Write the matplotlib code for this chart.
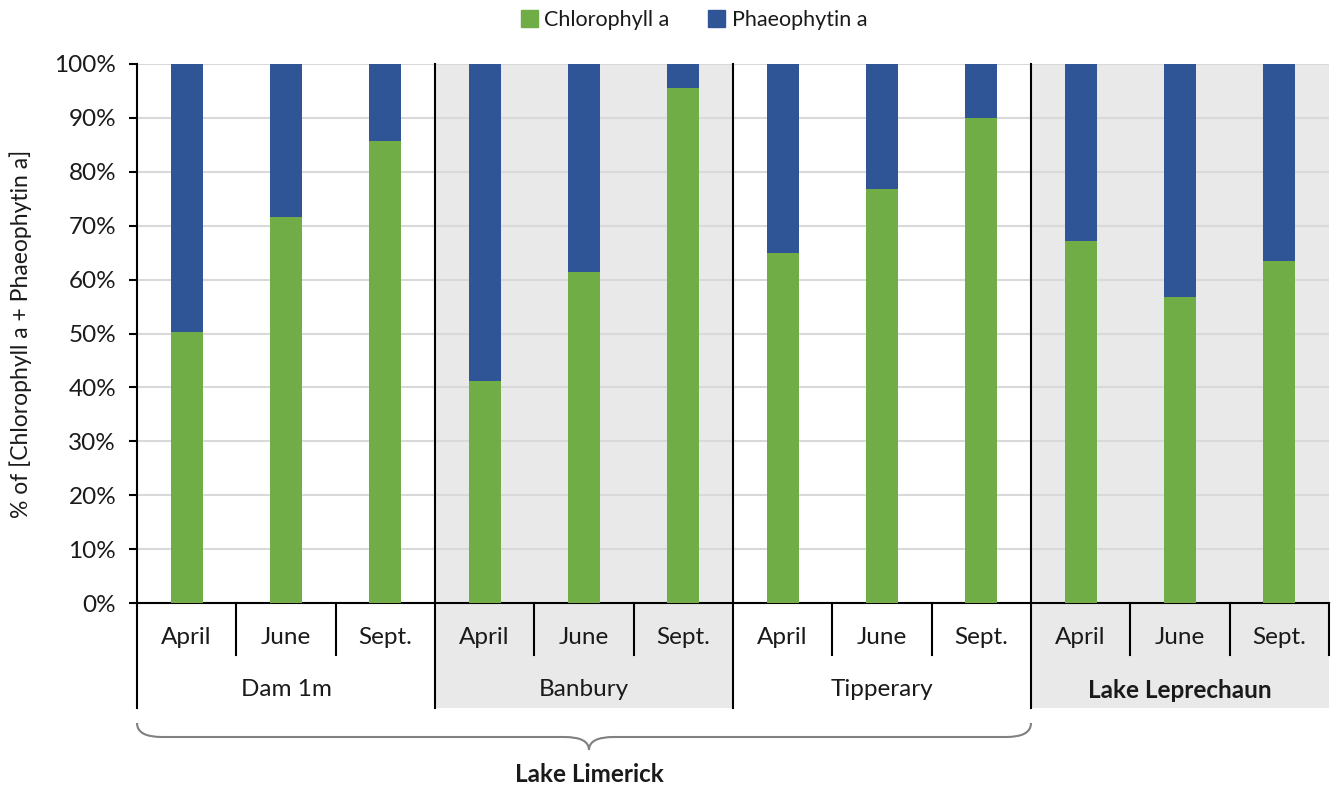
import matplotlib.pyplot as plt
from matplotlib.patches import Patch
from matplotlib.path import Path
from matplotlib.patches import PathPatch
from matplotlib.transforms import blended_transform_factory

# data (% of chlorophyll a + phaeophytin a)
months = ["April", "June", "Sept."]
sites = ["Dam 1m", "Banbury", "Tipperary", "Lake Leprechaun"]
chlorophyll = [50.3, 71.6, 85.7,
               41.2, 61.5, 95.5,
               64.9, 76.9, 89.9,
               67.2, 56.7, 63.5]
phaeophytin = [100 - v for v in chlorophyll]
lake_group = "Lake Limerick"   # spans the first three sites

GREEN = "#70ad47"
BLUE = "#2f5597"
SHADE = "#e9e9e9"
TXT = "#1a1a1a"

plt.rcParams["font.family"] = ["Lato", "DejaVu Sans"]
plt.rcParams["font.size"] = 17

fig = plt.figure(figsize=(13.31, 7.87), dpi=100)
ax = fig.add_axes([137 / 1331, 1 - 603 / 787, 1192 / 1331, 539 / 787])

n = len(chlorophyll)
xs = list(range(n))
ax.bar(xs, chlorophyll, width=0.32, color=GREEN, zorder=3, label="Chlorophyll a")
ax.bar(xs, phaeophytin, width=0.32, bottom=chlorophyll, color=BLUE, zorder=3,
       label="Phaeophytin a")

ax.set_xlim(-0.5, n - 0.5)
ax.set_ylim(0, 100)
ax.set_yticks(range(0, 101, 10))
ax.set_yticklabels([f"{v}%" for v in range(0, 101, 10)], fontsize=17.5, color=TXT)
ax.tick_params(axis="y", direction="out", length=6, width=1.5, pad=9)
ax.set_xticks([])
ax.yaxis.grid(True, color="#d9d9d9", lw=1.5, zorder=1)
ax.set_axisbelow(True)
for s in ["top", "right", "left"]:
    ax.spines[s].set_visible(False)
ax.spines["bottom"].set_linewidth(1.5)
ax.set_ylabel("% of [Chlorophyll a + Phaeophytin a]", fontsize=16.5,
              labelpad=16, color=TXT)

tr = blended_transform_factory(ax.transData, ax.transAxes)
px = 1 / 539  # one pixel in axes-fraction units
table_bottom = -105 * px
month_tick = -52 * px

k = len(months)
# shaded columns for the 2nd and 4th site
for gi in (1, 3):
    ax.axvspan(gi * k - 0.5, gi * k + k - 0.5, ymin=table_bottom, ymax=1,
               color=SHADE, zorder=0, clip_on=False, lw=0)

# left axis line runs down through the label table
ax.plot([-0.5, -0.5], [table_bottom, 1], color="black", lw=1.5,
        transform=tr, clip_on=False, zorder=4)
# separators between sites
for gi in range(1, len(sites)):
    xb = gi * k - 0.5
    ax.plot([xb, xb], [table_bottom, 1], color="black", lw=1.5,
            transform=tr, clip_on=False, zorder=4)
# small ticks between months
for i in range(n):
    if (i + 1) % k != 0 or i == n - 1:
        ax.plot([i + 0.5, i + 0.5], [month_tick, 0], color="black", lw=1.5,
                transform=tr, clip_on=False, zorder=4)

for i in range(n):
    ax.text(i, -35 * px, months[i % k], transform=tr, ha="center", va="center",
            fontsize=17.5, color=TXT)
for gi, name in enumerate(sites):
    bold = name == "Lake Leprechaun"
    ax.text(gi * k + (k - 1) / 2, -87 * px, name, transform=tr, ha="center",
            va="center", fontsize=17.5, color=TXT,
            fontweight="bold" if bold else "normal")

# curly brace under the Lake Limerick sites
x0, x1 = -0.5, 3 * k - 0.5
xm = 4.05
y_top, y_line, y_tip = -120 * px, -134 * px, -147 * px
r = 0.25
verts = [(x0, y_top), (x0, y_line), (x0 + r, y_line),
         (xm - r, y_line), (xm, y_line), (xm, y_tip),
         (xm, y_line), (xm + r, y_line),
         (x1 - r, y_line), (x1, y_line), (x1, y_top)]
codes = [Path.MOVETO, Path.CURVE3, Path.CURVE3,
         Path.LINETO, Path.CURVE3, Path.CURVE3,
         Path.CURVE3, Path.CURVE3,
         Path.LINETO, Path.CURVE3, Path.CURVE3]
ax.add_patch(PathPatch(Path(verts, codes), transform=tr, fill=False,
                       edgecolor="#808080", lw=1.5, clip_on=False))
ax.text(xm, -172 * px, lake_group, transform=tr, ha="center", va="center",
        fontsize=17.5, fontweight="bold", color=TXT)

handles = [Patch(color=GREEN, label="Chlorophyll a"),
           Patch(color=BLUE, label="Phaeophytin a")]
fig.legend(handles=handles, loc="center", ncol=2, frameon=False,
           bbox_to_anchor=(694 / 1331, 1 - 20 / 787), fontsize=15.5,
           handlelength=0.8, handleheight=0.8, handletextpad=0.3,
           columnspacing=1.8, labelcolor=TXT)

fig.savefig("out.png", dpi=100)
